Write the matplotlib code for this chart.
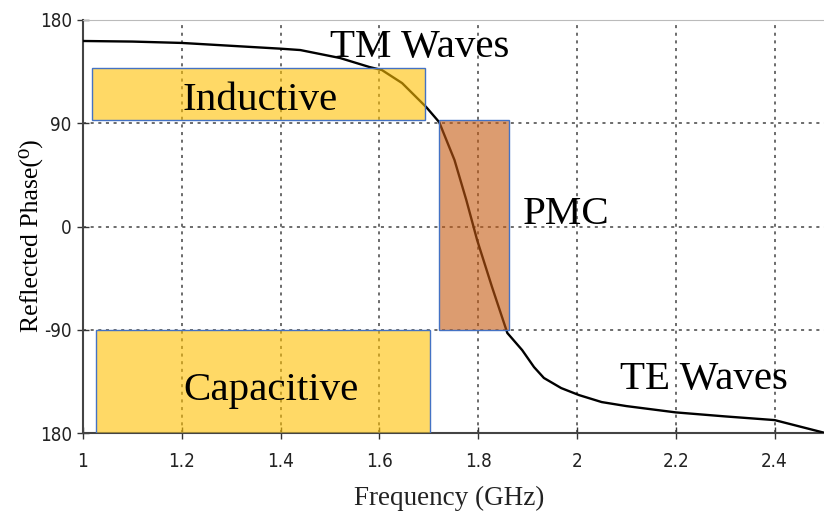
import numpy as np
import matplotlib.pyplot as plt
from matplotlib.patches import Rectangle

# reflection phase of the unit cell vs frequency
freq = [1.0, 1.1, 1.2, 1.3, 1.4, 1.44, 1.52, 1.58, 1.605, 1.646, 1.695, 1.721,
        1.752, 1.776, 1.798, 1.828, 1.859, 1.889, 1.913, 1.933, 1.968, 2.004,
        2.05, 2.1, 2.2, 2.3, 2.4, 2.5]
phase = [161.7, 161.2, 160, 157.5, 155, 153.8, 146.9, 139, 136.4, 125, 104, 91,
         58, 23, -12, -52.7, -92.8, -107.7, -122.5, -132, -140.8, -146.9,
         -153, -156.5, -162, -165.5, -168.7, -179.7]

xticks = [1, 1.2, 1.4, 1.6, 1.8, 2, 2.2, 2.4]
xtick_labels = ["1", "1.2", "1.4", "1.6", "1.8", "2", "2.2", "2.4"]
yticks = [180, 90, 0, -90, -180]
ytick_labels = ["180", "90", "0", "-90", "180"]

# shaded regions: (f_start, f_end, phase_low, phase_high)
inductive = (1.018, 1.693, 92.5, 138)
capacitive = (1.026, 1.703, -180, -90)
pmc = (1.721, 1.862, -90, 92.5)

serif = ["Liberation Serif", "DejaVu Serif"]

fig = plt.figure(figsize=(8.24, 5.18), dpi=100)
ax = fig.add_axes([0.1007, 0.164, 0.8993, 0.7974])

ax.plot(freq, phase, color="black", linewidth=1.7, zorder=3)


def add_box(ax, region, color):
    f0, f1, p0, p1 = region
    ax.add_patch(Rectangle((f0, p0), f1 - f0, p1 - p0, facecolor=color,
                           alpha=0.6, edgecolor="none", zorder=4))
    ax.add_patch(Rectangle((f0, p0), f1 - f0, p1 - p0, facecolor="none",
                           edgecolor="#4472C4", linewidth=1.0, zorder=5))


add_box(ax, inductive, "#FFC000")
add_box(ax, capacitive, "#FFC000")
add_box(ax, pmc, "#C55A11")

ax.set_xlim(1, 2.5)
ax.set_ylim(-180, 180)
ax.set_xticks(xticks)
ax.set_xticklabels(xtick_labels, family="DejaVu Sans", fontstretch="condensed",
                   fontsize=13.5, color="#222222")
ax.set_yticks(yticks)
ax.set_yticklabels(ytick_labels, family="DejaVu Sans", fontstretch="condensed",
                   fontsize=13.5, color="#222222")
ax.tick_params(direction="inout", length=8, width=1.0, color="#333333")
ax.tick_params(axis="x", pad=10)
ax.tick_params(axis="y", pad=4)

ax.grid(True, color="#444444", linestyle=(0, (2, 3)), linewidth=1.1)
ax.spines["right"].set_visible(False)
ax.spines["top"].set_color("#bbbbbb")
ax.spines["left"].set_color("#444444")
ax.spines["bottom"].set_color("#444444")
ax.spines["left"].set_linewidth(1.5)
ax.spines["bottom"].set_linewidth(1.5)

ax.set_xlabel("Frequency (GHz)", family=serif, fontsize=19.5,
              color="#222222", va="top")
ax.xaxis.set_label_coords(0.494, -0.128)
ax.set_ylabel("Reflected Phase(⁰)", family=serif, fontsize=18.5)
ax.yaxis.set_label_coords(-0.054, 0.479)

label_kw = dict(family=serif, fontsize=29.5, ha="center", va="baseline",
                zorder=6)
ax.text(1.681, 147.7, "TM Waves", **label_kw)
ax.text(1.3586, 101.5, "Inductive", **label_kw)
ax.text(1.979, 2.2, "PMC", **label_kw)
ax.text(1.381, -151.2, "Capacitive", **label_kw)
ax.text(2.256, -141.6, "TE Waves", **label_kw)

fig.savefig("out.png", dpi=100)
